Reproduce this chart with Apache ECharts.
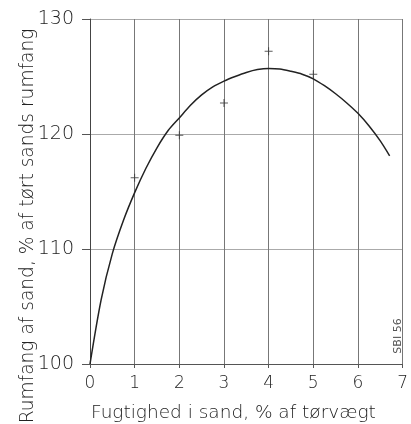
<!DOCTYPE html>
<html>
<head>
<meta charset="utf-8">
<script src="https://cdn.jsdelivr.net/npm/echarts@6/dist/echarts.min.js"></script>
<style>
  * { margin: 0; padding: 0; }
  html, body { background: #fff; }
  #chart { width: 411px; height: 424px; }
</style>
</head>
<body>
<div id="chart"></div>
<script>
// curve (fugtighed %, rumfang %)
const curveX = [0, 0.25, 0.5, 0.75, 1, 1.25, 1.5, 1.75, 2, 2.25, 2.5, 2.75, 3, 3.25, 3.5, 3.75, 4,
  4.25, 4.5, 4.75, 5, 5.25, 5.5, 5.75, 6, 6.25, 6.5, 6.71]
const curveY = [100, 105.6, 109.6, 112.5, 114.9, 117.0, 118.8, 120.3, 121.4, 122.5, 123.4, 124.1, 124.6, 125.0, 125.35, 125.6, 125.7,
  125.65, 125.45, 125.2, 124.8, 124.2, 123.5, 122.7, 121.8, 120.7, 119.4, 118.1]
// measured points (crosses)
const pointX = [1, 2, 3, 4, 5]
const pointY = [116.2, 119.9, 122.7, 127.2, 125.2]

const xTicks = [0, 1, 2, 3, 4, 5, 6, 7]
const yTicks = [100, 110, 120, 130]

const font = 'DejaVu Sans'
const chart = echarts.init(document.getElementById('chart'))

chart.setOption({
  animation: false,
  backgroundColor: '#fff',
  grid: { left: 90, right: -2, top: 19, bottom: 60 },
  xAxis: {
    type: 'value',
    min: xTicks[0], max: xTicks[xTicks.length - 1], interval: 1,
    axisLine: { lineStyle: { color: '#555', width: 1 } },
    axisTick: { length: 4, lineStyle: { color: '#555' } },
    axisLabel: { color: '#222', fontFamily: font, fontSize: 17, fontWeight: 'lighter', margin: 11 },
    splitLine: { show: true, lineStyle: { color: '#777', width: 1 } }
  },
  yAxis: {
    type: 'value',
    min: yTicks[0], max: yTicks[yTicks.length - 1], interval: 10,
    axisLine: { show: true, lineStyle: { color: '#444', width: 1 } },
    axisTick: { show: true, length: 8, lineStyle: { color: '#555' } },
    axisLabel: { color: '#222', fontFamily: font, fontSize: 19, fontWeight: 'lighter', margin: 16 },
    splitLine: { show: true, lineStyle: { color: '#aaa', width: 1 } }
  },
  graphic: [
    {
      type: 'text', left: 91, top: 404,
      style: { text: 'Fugtighed i sand, % af tørvægt', fill: '#222', font: 'lighter 18.5px "DejaVu Sans"' }
    },
    {
      type: 'text', x: 28, y: 226, rotation: Math.PI / 2,
      style: {
        text: 'Rumfang af sand, % af tørt sands rumfang', fill: '#222',
        font: 'lighter 18.6px "DejaVu Sans"', align: 'center', verticalAlign: 'middle'
      }
    },
    {
      type: 'text', x: 398, y: 336, rotation: Math.PI / 2,
      style: {
        text: 'SBI 56', fill: '#555',
        font: '11px "DejaVu Sans"', align: 'center', verticalAlign: 'middle'
      }
    }
  ],
  series: [
    {
      type: 'line',
      data: curveX.map((x, i) => [x, curveY[i]]),
      smooth: 0.3,
      showSymbol: false,
      lineStyle: { color: '#222', width: 1.5 }
    },
    {
      type: 'scatter',
      data: pointX.map((x, i) => [x, pointY[i]]),
      symbol: 'path://M-0.12,-1H0.12V-0.12H1V0.12H0.12V1H-0.12V0.12H-1V-0.12H-0.12Z',
      symbolSize: 8,
      itemStyle: { color: '#333' }
    }
  ]
})
</script>
</body>
</html>
